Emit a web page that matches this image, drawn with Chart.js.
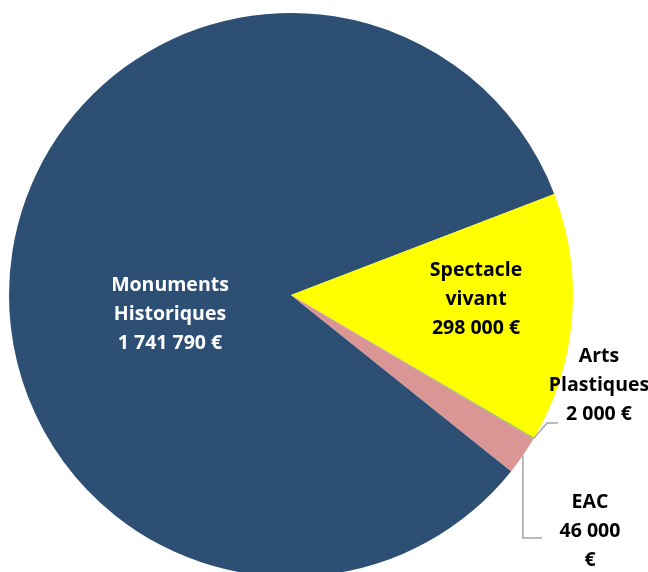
<!DOCTYPE html>
<html>
<head>
<meta charset="utf-8">
<script src="https://cdn.jsdelivr.net/npm/chart.js@4/dist/chart.umd.min.js"></script>
<style>
  html, body { margin: 0; padding: 0; background: #fff; overflow: hidden; }
  canvas { display: block; }
</style>
</head>
<body>
<canvas id="chartBudget" width="648" height="590"></canvas>
<script>
// Données
const categories = ['Monuments Historiques', 'Spectacle vivant', 'Arts Plastiques', 'EAC'];
const montants = [1741790, 298000, 2000, 46000];
const etiquettes = [
  ['Monuments', 'Historiques', '1 741 790 €'],
  ['Spectacle', 'vivant', '298 000 €'],
  ['Arts', 'Plastiques', '2 000 €'],
  ['EAC', '46 000', '€']
];

const couleurs = ['#2d4f74', '#ffff00', '#9bbb59', '#d99694'];

// placement des étiquettes, relatif au centre du camembert
const placement = [
  { dx: -121, dy: 19, color: '#ffffff' },
  { dx: 185, dy: 4, color: '#000000' },
  { dx: 308, dy: 90, color: '#000000', leader: { coude: [256, 128], fin: [267, 128] } },
  { dx: 299, dy: 236, color: '#000000', leader: { vertical: true, fin: [251, 243], coudeY: 243 } }
];

const total = montants.reduce((s, v) => s + v, 0);
const debutSpectacle = -21; // angle (degrés) où commence la part jaune
const rotation = 90 + debutSpectacle - 360 * montants[0] / total;

const etiquettesPlugin = {
  id: 'etiquettes',
  afterDatasetsDraw(chart) {
    const ctx = chart.ctx;
    const arcs = chart.getDatasetMeta(0).data;
    ctx.save();
    ctx.font = 'bold 19.5px "Open Sans", Lato, sans-serif';
    ctx.textAlign = 'center';
    ctx.textBaseline = 'middle';
    arcs.forEach((arc, i) => {
      const p = placement[i];
      const cx = arc.x, cy = arc.y;
      if (p.leader) {
        const mid = (arc.startAngle + arc.endAngle) / 2;
        const x0 = cx + Math.cos(mid) * arc.outerRadius;
        const y0 = cy + Math.sin(mid) * arc.outerRadius;
        ctx.strokeStyle = '#a6a6a6';
        ctx.lineWidth = 1.5;
        ctx.beginPath();
        ctx.moveTo(x0, y0);
        if (p.leader.vertical) {
          ctx.lineTo(x0, cy + p.leader.coudeY);
        } else {
          ctx.lineTo(cx + p.leader.coude[0], cy + p.leader.coude[1]);
        }
        ctx.lineTo(cx + p.leader.fin[0], cy + p.leader.fin[1]);
        ctx.stroke();
      }
      ctx.fillStyle = p.color;
      const lignes = etiquettes[i];
      lignes.forEach((t, k) => {
        ctx.fillText(t, cx + p.dx, cy + p.dy + (k - 1) * 29);
      });
    });
    ctx.restore();
  }
};

new Chart(document.getElementById('chartBudget'), {
  type: 'pie',
  data: {
    labels: categories,
    datasets: [{
      data: montants,
      backgroundColor: couleurs,
      borderWidth: 0
    }]
  },
  options: {
    responsive: false,
    devicePixelRatio: 1,
    animation: false,
    rotation: rotation,
    layout: { padding: { left: 9, top: 13, right: 75, bottom: 13 } },
    plugins: { legend: { display: false }, tooltip: { enabled: false } }
  },
  plugins: [etiquettesPlugin]
});
</script>
</body>
</html>
